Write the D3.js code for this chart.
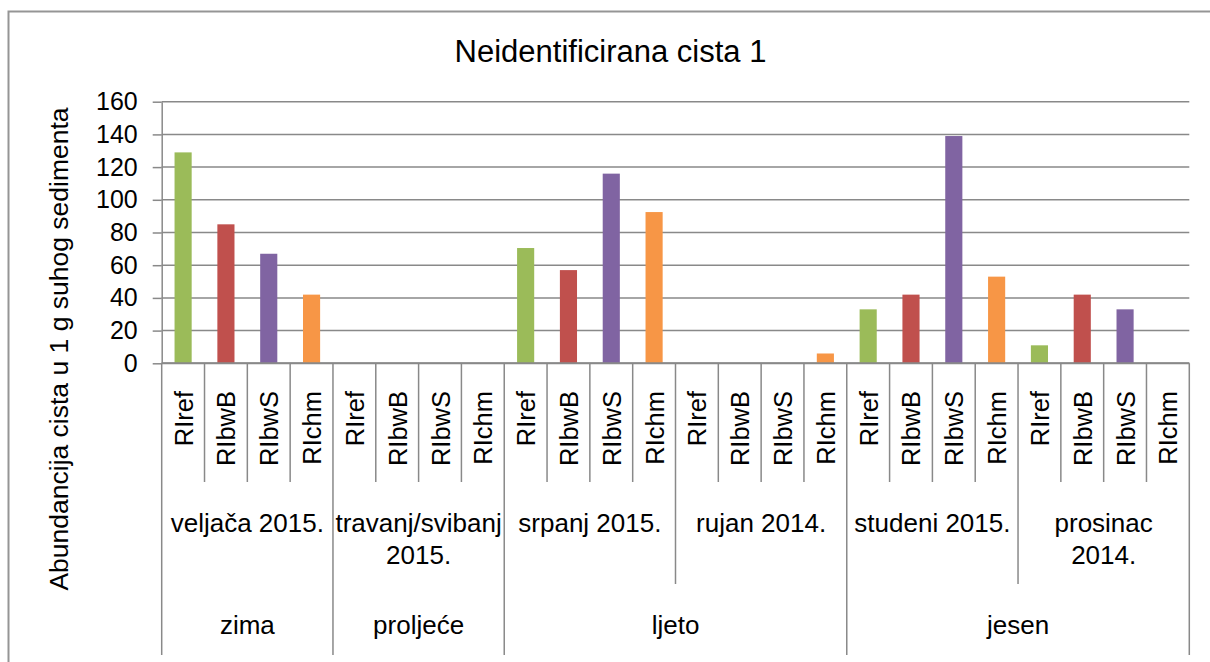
<!DOCTYPE html>
<html>
<head>
<meta charset="utf-8">
<script src="https://cdn.jsdelivr.net/npm/d3@7"></script>
<style>
  body { margin: 0; background: #fff; }
  text { font-family: "Liberation Sans", Arial, sans-serif; fill: #000; }
</style>
</head>
<body>
<div id="chart"></div>
<script>
// ---- data
var naslov = "Neidentificirana cista 1";
var osY = "Abundancija cista u 1 g suhog sedimenta";
var postaje = ["RIref", "RIbwB", "RIbwS", "RIchm"];
var mjeseci = ["veljača 2015.", "travanj/svibanj\n2015.", "srpanj 2015.", "rujan 2014.", "studeni 2015.", "prosinac\n2014."];
var sezone = ["zima", "proljeće", "ljeto", "jesen"];
var sezoneBrojMjeseci = [1, 1, 2, 2];
// vrijednosti po mjesecu, redom RIref, RIbwB, RIbwS, RIchm
var veljaca = [129, 85, 67, 42];
var travanj = [0, 0, 0, 0];
var srpanj = [70.5, 57, 116, 92.5];
var rujan = [0, 0, 0, 6];
var studeni = [33, 42, 139, 53];
var prosinac = [11, 42, 33, 0];
var yTicks = [0, 20, 40, 60, 80, 100, 120, 140, 160];
var boje = ["#9BBB59", "#C0504D", "#8064A2", "#F79646"];

var vrijednosti = [veljaca, travanj, srpanj, rujan, studeni, prosinac];

// ---- layout
var W = 1210, H = 662;
var x0 = 161.7, x1 = 1189.3;
var yTop = 101.7, yBot = 363.3;
var sivo = "#898989";

var podaci = [];
mjeseci.forEach(function (m, mi) {
    postaje.forEach(function (p, pi) {
        podaci.push({ key: mi + "-" + pi, postaja: p, pi: pi, mi: mi, v: vrijednosti[mi][pi] });
    });
});

var x = d3.scaleBand().domain(podaci.map(function (d) { return d.key; })).range([x0, x1]).padding(0);
var y = d3.scaleLinear().domain([0, 160]).range([yBot, yTop]);
var bw = x.bandwidth();

var svg = d3.select("#chart").append("svg")
    .attr("width", W)
    .attr("height", H);

svg.append("rect")
    .attr("width", W).attr("height", H).attr("fill", "#fff");

// okvir grafa
svg.append("rect")
    .attr("x", 8.5).attr("y", 11.5)
    .attr("width", 1400).attr("height", 900)
    .attr("fill", "none")
    .attr("stroke", "#959595")
    .attr("stroke-width", 2);

// naslov
svg.append("text")
    .attr("x", 610.5).attr("y", 61.5)
    .attr("text-anchor", "middle")
    .attr("font-size", "31px")
    .text(naslov);

// mreža
svg.append("g")
    .selectAll("line")
    .data(yTicks)
    .enter()
    .append("line")
    .attr("x1", x0).attr("x2", x1)
    .attr("y1", function (d) { return y(d); })
    .attr("y2", function (d) { return y(d); })
    .attr("stroke", sivo)
    .attr("stroke-width", 1.5);

// os y
var gY = svg.append("g")
    .attr("transform", "translate(" + x0 + ",0)")
    .call(d3.axisLeft(y).tickValues(yTicks).tickSizeInner(9).tickSizeOuter(0).tickPadding(15));
gY.select(".domain").attr("stroke", sivo).attr("stroke-width", 1.5);
gY.selectAll(".tick line").attr("stroke", sivo).attr("stroke-width", 1.5);
gY.selectAll(".tick text")
    .attr("font-size", "25px")
    .attr("font-family", "Liberation Sans, Arial, sans-serif")
    .attr("fill", "#000");

svg.append("text")
    .attr("transform", "translate(68,349) rotate(-90)")
    .attr("text-anchor", "middle")
    .attr("font-size", "26.5px")
    .text(osY);

// stupci
svg.append("g")
    .selectAll("rect")
    .data(podaci.filter(function (d) { return d.v > 0; }))
    .enter()
    .append("rect")
    .attr("x", function (d) { return x(d.key) + bw * 0.3; })
    .attr("width", bw * 0.4)
    .attr("y", function (d) { return y(d.v); })
    .attr("height", function (d) { return y(0) - y(d.v); })
    .attr("fill", function (d) { return boje[d.pi]; });

// os x
svg.append("line")
    .attr("x1", x0).attr("x2", x1)
    .attr("y1", yBot).attr("y2", yBot)
    .attr("stroke", sivo).attr("stroke-width", 2);

// granice kategorija (3 razine)
var granicaSezona = [0];
sezoneBrojMjeseci.reduce(function (s, n) { granicaSezona.push(s + n); return s + n; }, 0);
var yRazina1 = 482, yRazina2 = 584, yRazina3 = 655;
var granice = d3.range(podaci.length + 1).map(function (i) {
    var kraj = yRazina1;
    if (i % postaje.length === 0) {
        kraj = granicaSezona.indexOf(i / postaje.length) >= 0 ? yRazina3 : yRazina2;
    }
    return { x: x0 + i * bw, kraj: kraj };
});
svg.append("g")
    .selectAll("line")
    .data(granice)
    .enter()
    .append("line")
    .attr("x1", function (d) { return d.x; })
    .attr("x2", function (d) { return d.x; })
    .attr("y1", yBot)
    .attr("y2", function (d) { return d.kraj; })
    .attr("stroke", sivo)
    .attr("stroke-width", 1.5);

// oznake postaja
svg.append("g")
    .selectAll("text")
    .data(podaci)
    .enter()
    .append("text")
    .attr("transform", function (d) {
        return "translate(" + (x(d.key) + bw / 2 + 9.5) + ",391) rotate(-90)";
    })
    .attr("text-anchor", "end")
    .attr("font-size", "25.5px")
    .text(function (d) { return d.postaja; });

// oznake mjeseci
var sirinaMj = bw * postaje.length;
var gMj = svg.append("g")
    .selectAll("text")
    .data(mjeseci)
    .enter()
    .append("text")
    .attr("text-anchor", "middle")
    .attr("font-size", "26px");
gMj.each(function (m, i) {
    var t = d3.select(this);
    m.split("\n").forEach(function (red, j) {
        t.append("tspan")
            .attr("x", x0 + sirinaMj * (i + 0.5))
            .attr("y", 532 + j * 31.5)
            .text(red);
    });
});

// oznake sezona
svg.append("g")
    .selectAll("text")
    .data(sezone)
    .enter()
    .append("text")
    .attr("x", function (d, i) {
        return x0 + sirinaMj * (granicaSezona[i] + granicaSezona[i + 1]) / 2;
    })
    .attr("y", 634)
    .attr("text-anchor", "middle")
    .attr("font-size", "26px")
    .text(function (d) { return d; });
</script>
</body>
</html>
